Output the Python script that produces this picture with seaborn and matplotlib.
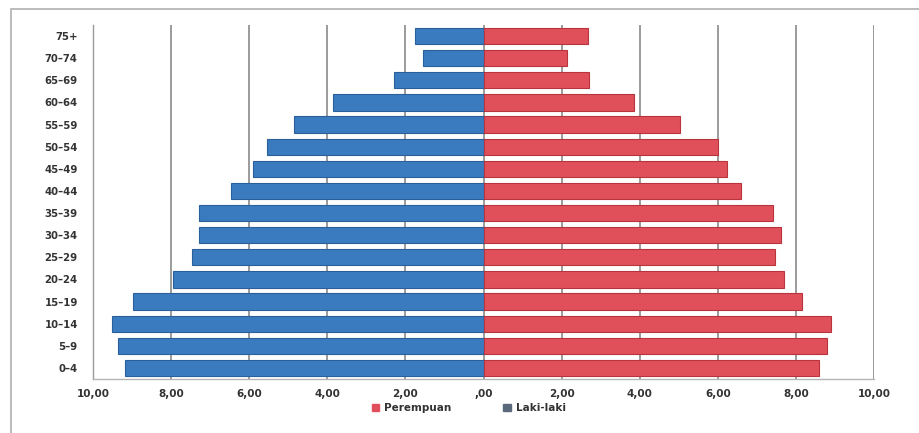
import numpy as np
import pandas as pd
import seaborn as sns
import matplotlib
matplotlib.use("Agg")
import matplotlib.pyplot as plt
from matplotlib.patches import Rectangle, Patch

# ---- data (percent of population) ----
age_groups = ["75+", "70\u201374", "65\u201369", "60\u201364", "55\u201359", "50\u201354",
              "45\u201349", "40\u201344", "35\u201339", "30\u201334", "25\u201329", "20\u201324",
              "15\u201319", "10\u201314", "5\u20139", "0\u20134"]
laki_laki = [1.75, 1.55, 2.29, 3.85, 4.85, 5.54, 5.90, 6.47, 7.29, 7.28, 7.46, 7.95,
             8.98, 9.51, 9.36, 9.18]
perempuan = [2.68, 2.14, 2.70, 3.85, 5.03, 6.01, 6.24, 6.59, 7.42, 7.62, 7.46, 7.70,
             8.16, 8.90, 8.79, 8.59]
x_ticks = [-10, -8, -6, -4, -2, 0, 2, 4, 6, 8, 10]
x_tick_labels = ["10,00", "8,00", "6,00", "4,00", "2,00", ",00",
                 "2,00", "4,00", "6,00", "8,00", "10,00"]
series_names = ["Perempuan", "Laki-laki"]

df = pd.DataFrame({"age": age_groups,
                   "laki": [-v for v in laki_laki],
                   "perempuan": perempuan})

sns.set_theme(style="white")
plt.rcParams["font.family"] = ["DejaVu Sans"]

BLUE = "#3a7bc0"
RED = "#e0505a"

fig = plt.figure(figsize=(9.19, 4.33), dpi=100)
ax = fig.add_axes([93 / 919, 1 - 379 / 433, (874 - 93) / 919, (379 - 25) / 433])

sns.barplot(data=df, x="laki", y="age", order=age_groups, orient="h",
            color=BLUE, saturation=1, width=0.74, edgecolor="#2b5f99",
            linewidth=0.8, ax=ax, zorder=3)
sns.barplot(data=df, x="perempuan", y="age", order=age_groups, orient="h",
            color=RED, saturation=1, width=0.74, edgecolor="#b8343c",
            linewidth=0.8, ax=ax, zorder=3)

ax.set_xlim(-10, 10)
ax.set_xticks(x_ticks)
ax.set_xticklabels(x_tick_labels, fontsize=7.5, fontweight="bold", color="#333333")
ax.tick_params(axis="y", labelsize=7.3, colors="#333333", length=0, pad=11)
for t in ax.get_yticklabels():
    t.set_fontweight("bold")
ax.tick_params(axis="x", length=3, color="#999999", pad=4)
ax.set_xlabel("")
ax.set_ylabel("")

ax.grid(axis="x", color="#8a8a8a", linewidth=1.2, zorder=0)
ax.set_axisbelow(True)
for side in ["top", "right"]:
    ax.spines[side].set_visible(False)
ax.spines["left"].set_color("#9a9a9a")
ax.spines["left"].set_linewidth(1.0)
ax.spines["bottom"].set_color("#b5b5b5")
ax.spines["bottom"].set_linewidth(1.0)
ax.set_xticks(np.arange(-10, 10.01, 0.5), minor=True)
ax.tick_params(axis="x", which="minor", length=2, color="#bbbbbb")

handles = [Patch(facecolor=RED, edgecolor=RED), Patch(facecolor="#5a6a7a", edgecolor="#5a6a7a")]
leg = fig.legend(handles, series_names, loc="center", bbox_to_anchor=(0.51, 1 - 408 / 433),
                 ncol=2, frameon=False, fontsize=7.5, handlelength=0.7, handleheight=0.6,
                 columnspacing=5.0, handletextpad=0.5)
for t in leg.get_texts():
    t.set_fontweight("bold")
    t.set_color("#333333")

# outer chart border (partially cropped in the original)
fig.patches.append(Rectangle((11 / 919, -0.05), 1.0, 1 - 9 / 433 + 0.05,
                             transform=fig.transFigure, fill=False,
                             edgecolor="#b0b0b0", linewidth=1.2))

fig.savefig("out.png", dpi=100)
